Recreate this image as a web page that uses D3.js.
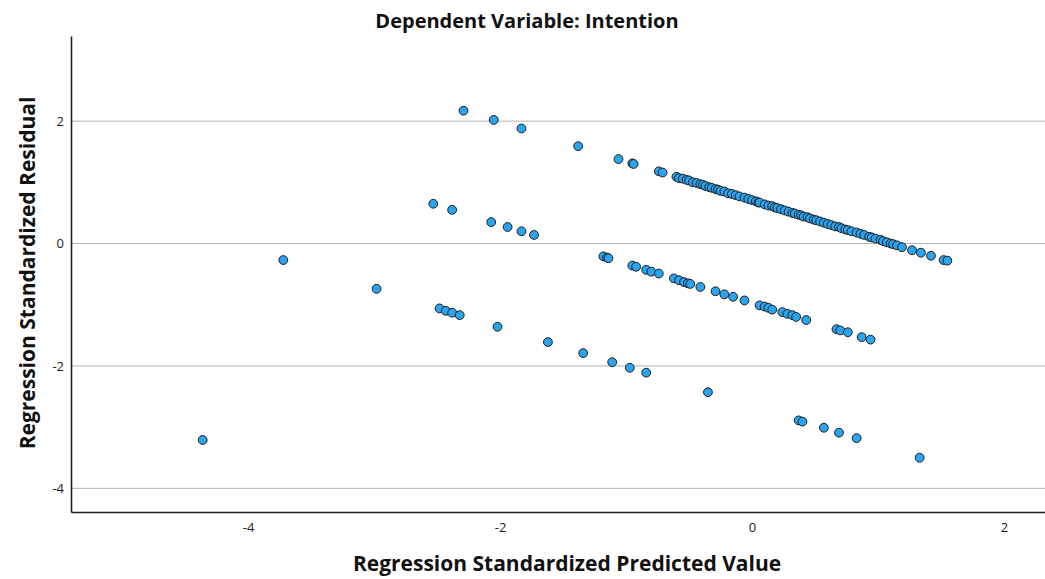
<!DOCTYPE html>
<html>
<head>
<meta charset="utf-8">
<script src="https://cdn.jsdelivr.net/npm/d3@7"></script>
<style>
  body { margin: 0; background: #fff; }
  text { font-family: "Open Sans", "DejaVu Sans", sans-serif; }
</style>
</head>
<body>
<div id="scatter"></div>
<script>
// standardized predicted value / standardized residual pairs
// upper band
var bandTop = [
  [-2.29, 2.17], [-2.05, 2.02], [-1.83, 1.88], [-1.38, 1.59], [-1.06, 1.38],
  [-0.95, 1.31], [-0.94, 1.30], [-0.74, 1.18], [-0.71, 1.16], [-0.60, 1.09],
  [-0.58, 1.07], [-0.55, 1.06], [-0.52, 1.04], [-0.50, 1.03], [-0.47, 1.00],
  [-0.44, 0.99], [-0.41, 0.97], [-0.39, 0.96], [-0.37, 0.94], [-0.34, 0.92],
  [-0.32, 0.91], [-0.29, 0.89], [-0.27, 0.88], [-0.25, 0.86], [-0.22, 0.85],
  [-0.19, 0.82], [-0.16, 0.81], [-0.13, 0.79], [-0.10, 0.77], [-0.06, 0.75],
  [-0.03, 0.73], [0.00, 0.71], [0.03, 0.69], [0.05, 0.67], [0.06, 0.67],
  [0.10, 0.64], [0.13, 0.62], [0.16, 0.61], [0.18, 0.59], [0.20, 0.58],
  [0.23, 0.56], [0.26, 0.54], [0.29, 0.52], [0.32, 0.50], [0.34, 0.49],
  [0.37, 0.47], [0.39, 0.46], [0.41, 0.44], [0.44, 0.43], [0.46, 0.41],
  [0.49, 0.39], [0.51, 0.38], [0.54, 0.36], [0.57, 0.34], [0.60, 0.32],
  [0.63, 0.30], [0.66, 0.28], [0.69, 0.27], [0.71, 0.25], [0.74, 0.23],
  [0.76, 0.22], [0.79, 0.20], [0.83, 0.18], [0.86, 0.16], [0.89, 0.14],
  [0.93, 0.11], [0.95, 0.10], [0.98, 0.08], [1.02, 0.06], [1.04, 0.04],
  [1.07, 0.02], [1.10, 0.00], [1.12, -0.01], [1.15, -0.03], [1.19, -0.06],
  [1.27, -0.11], [1.34, -0.15], [1.42, -0.20], [1.52, -0.27], [1.55, -0.28]
];
// middle band
var bandMid = [
  [-2.53, 0.65], [-2.38, 0.55], [-2.07, 0.35], [-1.94, 0.27], [-1.83, 0.20],
  [-1.73, 0.14], [-1.18, -0.21], [-1.15, -0.23], [-1.14, -0.24], [-0.95, -0.36],
  [-0.92, -0.38], [-0.84, -0.43], [-0.80, -0.46], [-0.74, -0.49], [-0.62, -0.57],
  [-0.58, -0.60], [-0.54, -0.63], [-0.51, -0.65], [-0.49, -0.66], [-0.41, -0.71],
  [-0.29, -0.78], [-0.22, -0.83], [-0.15, -0.87], [-0.06, -0.93], [0.06, -1.01],
  [0.10, -1.03], [0.13, -1.05], [0.16, -1.08], [0.24, -1.12], [0.28, -1.15],
  [0.32, -1.17], [0.35, -1.20], [0.43, -1.25], [0.67, -1.40], [0.70, -1.42],
  [0.76, -1.45], [0.87, -1.53], [0.94, -1.57]
];
// lower band
var bandLow = [
  [-3.72, -0.27], [-2.98, -0.74], [-2.48, -1.06], [-2.43, -1.10], [-2.38, -1.13],
  [-2.32, -1.17], [-2.02, -1.36], [-1.62, -1.61], [-1.34, -1.79], [-1.11, -1.94],
  [-0.97, -2.03], [-0.84, -2.11], [-0.35, -2.43], [0.37, -2.89], [0.40, -2.91],
  [0.57, -3.01], [0.69, -3.09], [0.83, -3.18], [1.33, -3.50]
];
// lone point bottom left
var outliers = [[-4.36, -3.21]];

var xTicks = [-4, -2, 0, 2];
var yTicks = [-4, -2, 0, 2];

var chartTitle = "Dependent Variable: Intention";
var xTitle = "Regression Standardized Predicted Value";
var yTitle = "Regression Standardized Residual";

// set the dimensions and margins of the graph
var margin = { top: 36, right: 0, bottom: 67, left: 71 },
    width = 1045 - margin.left - margin.right,
    height = 579 - margin.top - margin.bottom;

var svg = d3.select("#scatter")
    .append("svg")
    .attr("width", width + margin.left + margin.right)
    .attr("height", height + margin.top + margin.bottom)
    .append("g")
    .attr("transform", "translate(" + margin.left + "," + margin.top + ")");

var x = d3.scaleLinear()
    .domain([-5.405, 2.325])
    .range([0, width]);

var y = d3.scaleLinear()
    .domain([-4.387, 3.391])
    .range([height, 0]);

var fmt = function (d) { return d < 0 ? "-" + Math.abs(d) : "" + d; };

// horizontal grid lines
svg.append("g")
    .selectAll("line")
    .data(yTicks)
    .enter().append("line")
    .attr("x1", 0)
    .attr("x2", width)
    .attr("y1", function (d) { return y(d); })
    .attr("y2", function (d) { return y(d); })
    .attr("stroke", "#b3b3b3")
    .attr("stroke-width", 1);

// X axis
var xAxis = svg.append("g")
    .attr("transform", "translate(0," + height + ")")
    .call(d3.axisBottom(x).tickValues(xTicks).tickFormat(fmt).tickSize(0).tickPadding(11));
xAxis.select(".domain").attr("stroke", "#222").attr("stroke-width", 1.6);
xAxis.selectAll("text").style("font-size", "13px").attr("fill", "#222");

// Y axis
var yAxis = svg.append("g")
    .call(d3.axisLeft(y).tickValues(yTicks).tickFormat(fmt).tickSize(0).tickPadding(7));
yAxis.select(".domain").attr("stroke", "#222").attr("stroke-width", 1.6);
yAxis.selectAll("text").style("font-size", "13px").attr("fill", "#222");

// the dots
var allPoints = bandTop.concat(bandMid, bandLow, outliers);
svg.append("g")
    .selectAll("circle")
    .data(allPoints)
    .enter().append("circle")
    .attr("cx", function (d) { return x(d[0]); })
    .attr("cy", function (d) { return y(d[1]); })
    .attr("r", 4.4)
    .attr("fill", "#2aa4ef")
    .attr("stroke", "#1c1c1c")
    .attr("stroke-width", 1);

// title
svg.append("text")
    .attr("text-anchor", "middle")
    .attr("x", 527 - margin.left)
    .attr("y", 28 - margin.top)
    .style("font-size", "20px")
    .style("font-weight", "bold")
    .attr("fill", "#111")
    .text(chartTitle);

// X axis label
svg.append("text")
    .attr("text-anchor", "middle")
    .attr("x", 567 - margin.left)
    .attr("y", 571 - margin.top)
    .style("font-size", "21px")
    .style("font-weight", "bold")
    .attr("fill", "#111")
    .text(xTitle);

// Y axis label
svg.append("text")
    .attr("text-anchor", "middle")
    .attr("transform", "rotate(-90)")
    .attr("x", -(273 - margin.top))
    .attr("y", 35 - margin.left)
    .style("font-size", "21px")
    .style("font-weight", "bold")
    .attr("fill", "#111")
    .text(yTitle);
</script>
</body>
</html>
